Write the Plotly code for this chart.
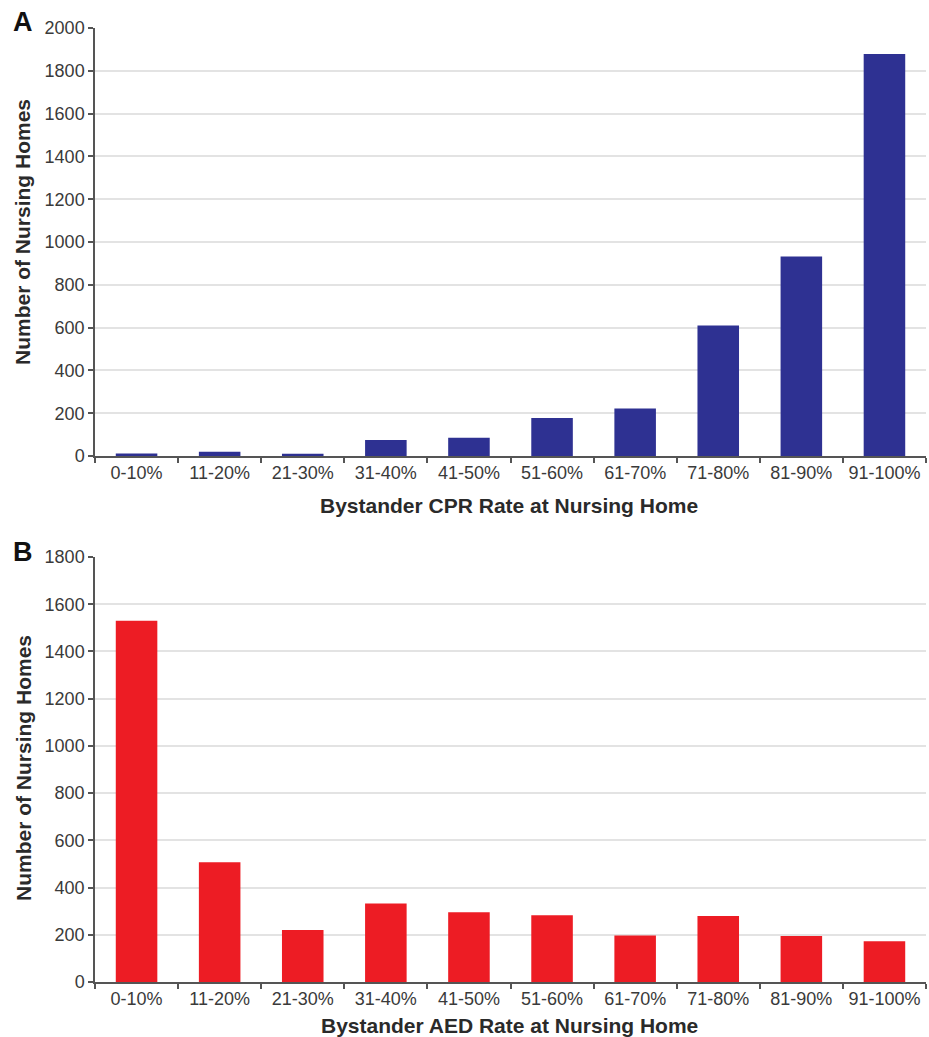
import plotly.graph_objects as go
from plotly.subplots import make_subplots

categories = ["0-10%", "11-20%", "21-30%", "31-40%", "41-50%",
              "51-60%", "61-70%", "71-80%", "81-90%", "91-100%"]
cpr_counts = [12, 20, 10, 75, 85, 178, 222, 610, 932, 1878]
aed_counts = [1530, 507, 220, 333, 295, 283, 197, 280, 195, 173]

cpr_ticks = [0, 200, 400, 600, 800, 1000, 1200, 1400, 1600, 1800, 2000]
aed_ticks = [0, 200, 400, 600, 800, 1000, 1200, 1400, 1600, 1800]

W, H = 929, 1037
ml, mr, mt, mb = 95, 3, 28, 55
ph = H - mt - mb

def py(px):
    return 1 - (px - mt) / ph

fig = make_subplots(rows=2, cols=1)
fig.add_trace(go.Bar(x=categories, y=cpr_counts, marker_color="#2E3192",
                     marker_line_width=0, width=0.5), row=1, col=1)
fig.add_trace(go.Bar(x=categories, y=aed_counts, marker_color="#ED1C24",
                     marker_line_width=0, width=0.5), row=2, col=1)

font_tick = dict(family="Liberation Sans, Arial, sans-serif", size=18, color="#3a3a3a")
axis_common = dict(showline=True, linecolor="#555555", linewidth=1.5,
                   ticks="outside", tickcolor="#555555", ticklen=5, tickwidth=1.5,
                   tickfont=font_tick)

fig.update_xaxes(**axis_common, tickson="boundaries", showgrid=False)
fig.update_yaxes(**axis_common, showgrid=True, gridcolor="#E3E3E3", gridwidth=1.5,
                 zeroline=False)
fig.update_yaxes(range=[0, 2000], tickvals=cpr_ticks, row=1, col=1)
fig.update_yaxes(range=[0, 1800], tickvals=aed_ticks, row=2, col=1)

fig.update_layout(
    xaxis=dict(domain=[0, 1]), xaxis2=dict(domain=[0, 1]),
    yaxis=dict(domain=[py(456), 1]),
    yaxis2=dict(domain=[0, py(557)]),
)

title_font = dict(family="Liberation Sans, Arial, sans-serif", size=21, color="#2a2a2a")
letter_font = dict(family="Liberation Sans, Arial, sans-serif", size=27, color="#111111")

def ann(text, xpx, ypx, font, angle=0):
    fig.add_annotation(text=text, xref="paper", yref="paper",
                       x=(xpx - ml) / (W - ml - mr), y=py(ypx),
                       showarrow=False, font=font, textangle=angle,
                       xanchor="center", yanchor="middle")

ann("<b>Bystander CPR Rate at Nursing Home</b>", 509, 506, title_font)
ann("<b>Bystander AED Rate at Nursing Home</b>", 509, 1025, title_font)
ann("<b>Number of Nursing Homes</b>", 23, 232, title_font, -90)
ann("<b>Number of Nursing Homes</b>", 23, 768, title_font, -90)
ann("<b>A</b>", 23, 22, letter_font)
ann("<b>B</b>", 23, 552, letter_font)

fig.update_layout(
    width=W, height=H, showlegend=False,
    margin=dict(l=ml, r=mr, t=mt, b=mb, autoexpand=False),
    paper_bgcolor="white", plot_bgcolor="white",
    bargap=0.5,
)

fig.write_html("out.html", config={"displayModeBar": False},
               post_script="document.body.style.margin='0';")
